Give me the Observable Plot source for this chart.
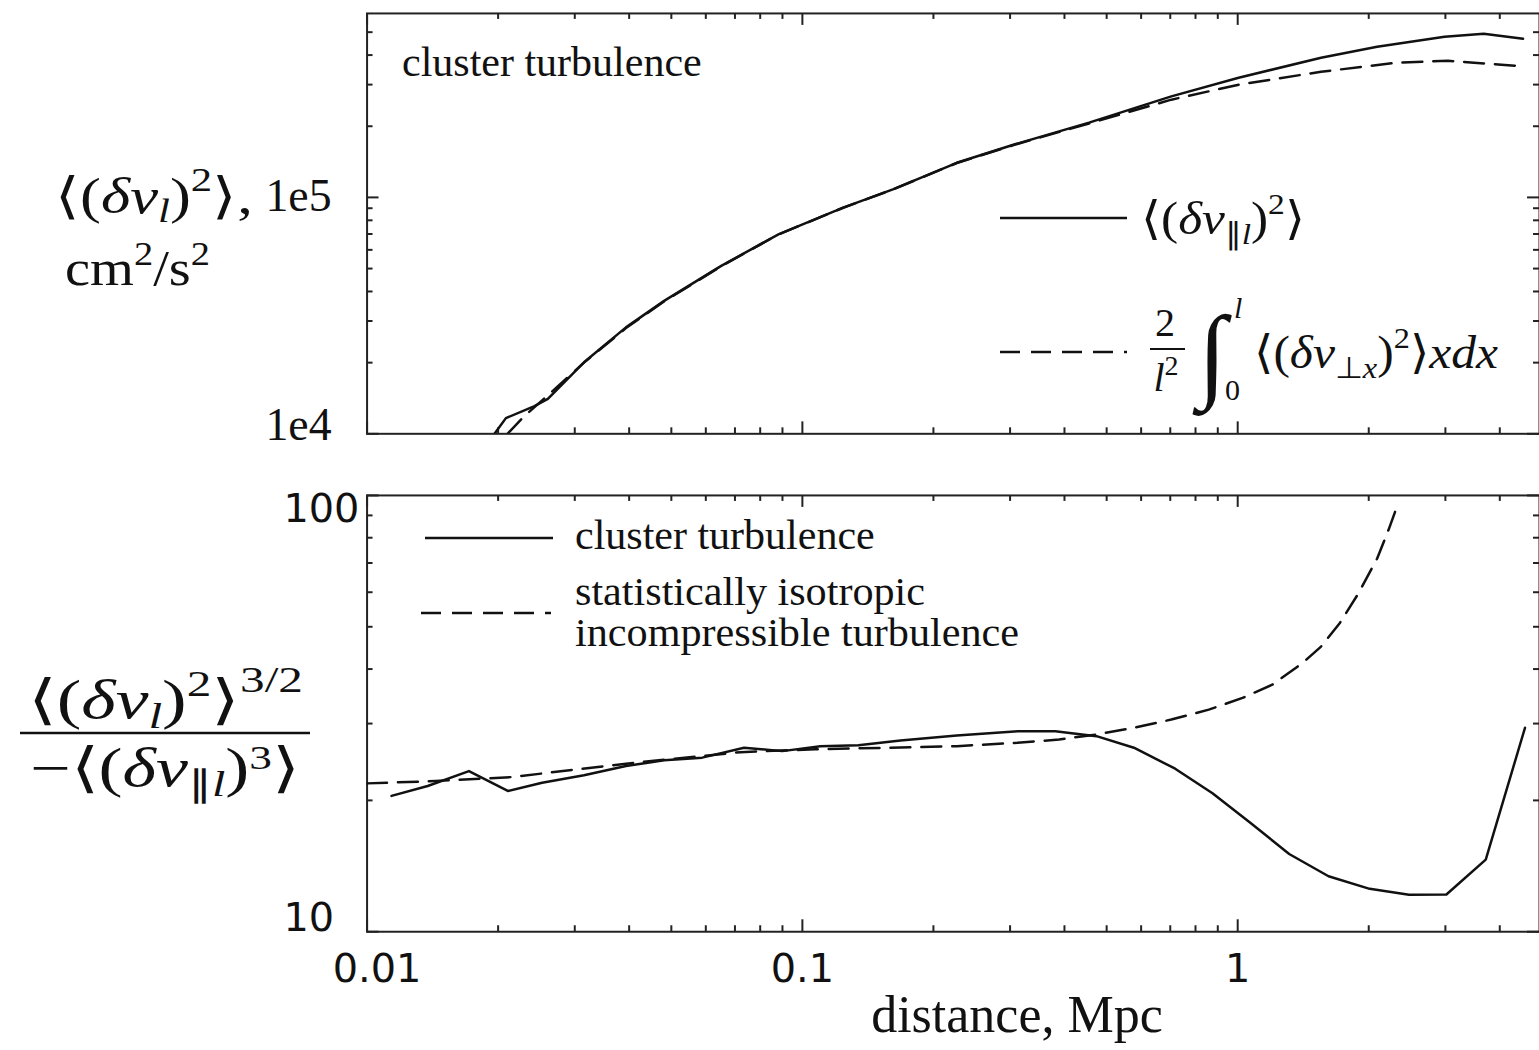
<!DOCTYPE html>
<html><head><meta charset="utf-8">
<script src="https://cdn.jsdelivr.net/npm/d3@7"></script>
<script src="https://cdn.jsdelivr.net/npm/@observablehq/plot@0.6"></script>
<style>
html,body{margin:0;padding:0;background:#fff;overflow:hidden;}
#wrap{position:relative;width:1539px;height:1050px;overflow:hidden;background:#fff;}
#top,#bot{position:absolute;left:0;}
#top{top:0px}
#bot{top:480px}
#overlay{position:absolute;left:0;top:0;}
#overlay text{font-family:"Liberation Serif",serif;fill:#111;}
</style></head><body>
<div id="wrap">
<div id="top"></div>
<div id="bot"></div>
<svg id="overlay" width="1539" height="1050" xmlns="http://www.w3.org/2000/svg">
  <!-- top y-axis label -->
  <text x="55" y="213" font-size="50" textLength="198" lengthAdjust="spacingAndGlyphs">⟨(<tspan font-style="italic">δv</tspan><tspan font-style="italic" font-size="34" dy="9">l</tspan><tspan dy="-9">)</tspan><tspan font-size="34" dy="-22">2</tspan><tspan dy="22">⟩,</tspan></text>
  <text x="65" y="285" font-size="50" textLength="145" lengthAdjust="spacingAndGlyphs">cm<tspan font-size="34" dy="-20">2</tspan><tspan dy="20">/s</tspan><tspan font-size="34" dy="-20">2</tspan></text>
  <!-- bottom y-axis label (fraction) -->
  <text x="28" y="718" font-size="54" textLength="275" lengthAdjust="spacingAndGlyphs">⟨(<tspan font-style="italic">δv</tspan><tspan font-style="italic" font-size="36" dy="10">l</tspan><tspan dy="-10">)</tspan><tspan font-size="36" dy="-22">2</tspan><tspan dy="22">⟩</tspan><tspan font-size="36" dy="-26">3/2</tspan></text>
  <line x1="20" x2="310" y1="733" y2="733" stroke="#111" stroke-width="2.5"/>
  <text x="30" y="786" font-size="54" textLength="270" lengthAdjust="spacingAndGlyphs">−⟨(<tspan font-style="italic">δv</tspan><tspan font-size="36" dy="10">∥<tspan font-style="italic">l</tspan></tspan><tspan dy="-10">)</tspan><tspan font-size="34" dy="-17">3</tspan><tspan dy="17">⟩</tspan></text>
  <!-- top panel annotation -->
  <text x="402" y="76" font-size="42">cluster turbulence</text>
  <!-- top legend -->
  <line x1="1000" x2="1127" y1="218" y2="218" stroke="#111" stroke-width="2.5"/>
  <text x="1141" y="234" font-size="46" textLength="164" lengthAdjust="spacingAndGlyphs">⟨(<tspan font-style="italic">δv</tspan><tspan font-size="30" dy="10">∥<tspan font-style="italic">l</tspan></tspan><tspan dy="-10">)</tspan><tspan font-size="30" dy="-20">2</tspan><tspan dy="20">⟩</tspan></text>
  <line x1="1000" x2="1127" y1="352" y2="352" stroke="#111" stroke-width="2.5" stroke-dasharray="20,11"/>
  <text x="1165" y="336" font-size="40" text-anchor="middle">2</text>
  <line x1="1150" x2="1185" y1="349" y2="349" stroke="#111" stroke-width="2"/>
  <text x="1166" y="391" font-size="40" text-anchor="middle"><tspan font-style="italic">l</tspan><tspan font-size="28" dy="-16">2</tspan></text>
  <text x="1198" y="388" font-size="104" font-style="italic">∫</text>
  <text x="1234" y="318" font-size="30" font-style="italic">l</text>
  <text x="1225" y="400" font-size="30">0</text>
  <text x="1254" y="368" font-size="46" textLength="244" lengthAdjust="spacingAndGlyphs">⟨(<tspan font-style="italic">δv</tspan><tspan font-size="30" dy="10">⊥<tspan font-style="italic">x</tspan></tspan><tspan dy="-10">)</tspan><tspan font-size="30" dy="-20">2</tspan><tspan dy="20">⟩</tspan><tspan font-style="italic">xdx</tspan></text>
  <!-- bottom legend -->
  <line x1="425" x2="553" y1="538" y2="538" stroke="#111" stroke-width="2.5"/>
  <text x="575" y="549" font-size="42">cluster turbulence</text>
  <line x1="421" x2="551" y1="613" y2="613" stroke="#111" stroke-width="2.5" stroke-dasharray="20,11"/>
  <text x="575" y="605" font-size="40" textLength="350" lengthAdjust="spacingAndGlyphs">statistically isotropic</text>
  <text x="575" y="646" font-size="40" textLength="444" lengthAdjust="spacingAndGlyphs">incompressible turbulence</text>
  <!-- x-axis title -->
  <text x="1017" y="1032" font-size="52" text-anchor="middle">distance, Mpc</text>
</svg>
</div>
<script>
// ---------- data ----------
// top panel: <(dv_l)^2> (solid) and 2/l^2 ∫ <(dv_perp x)^2> x dx (dashed), cm^2/s^2
const topSolidX = [0.01962,0.02084,0.02424,0.02602,0.0315,0.03933,0.04813,0.0651,0.0881,0.1241,0.1614,0.2263,0.3066,0.4555,0.704,1.005,1.554,2.091,2.987,3.674,4.524];
const topSolidY = [1.0e4,1.165e4,1.309e4,1.405e4,2.007e4,2.82e4,3.65e4,5.13e4,6.98e4,9.05e4,1.081e5,1.401e5,1.674e5,2.072e5,2.675e5,3.208e5,3.896e5,4.337e5,4.778e5,4.92e5,4.69e5];
const topDashX = [0.02102,0.02288,0.02623,0.0315,0.03933,0.04813,0.0651,0.0881,0.1241,0.1614,0.2263,0.3066,0.4555,0.704,1.005,1.554,2.309,3.04,4.35];
const topDashY = [1.0e4,1.18e4,1.475e4,2.0e4,2.8e4,3.63e4,5.12e4,6.97e4,9.04e4,1.08e5,1.398e5,1.668e5,2.055e5,2.591e5,2.998e5,3.40e5,3.71e5,3.785e5,3.606e5];
// bottom panel: ratio, cluster turbulence (solid) and isotropic incompressible (dashed)
const botSolidX = [0.01138,0.01378,0.01714,0.02105,0.02524,0.0315,0.03933,0.04813,0.05886,0.07346,0.08991,0.110,0.1345,0.168,0.2263,0.3128,0.3811,0.4739,0.5775,0.7184,0.8752,1.067,1.313,1.617,2.010,2.475,3.016,3.714,4.571];
const botSolidY = [20.48,21.58,23.35,21.02,21.96,22.83,23.98,24.71,25.06,26.41,25.94,26.63,26.77,27.44,28.17,28.81,28.81,28.07,26.41,23.64,20.77,17.80,15.07,13.40,12.54,12.15,12.17,14.63,29.34];
const botDashX = [0.01,0.01435,0.02147,0.03936,0.07201,0.107,0.155,0.2263,0.3121,0.3888,0.4739,0.5775,0.704,0.8582,1.026,1.201,1.408,1.554,1.715,1.894,2.091,2.219,2.332];
const botDashY = [21.88,22.15,22.62,24.28,25.80,26.2,26.4,26.63,27.11,27.58,28.32,29.34,30.64,32.29,34.35,36.84,41.28,45.04,50.94,59.65,71.70,83.18,95.39];
// ticks
const xMajor = [0.01, 0.1, 1];
const xLabels = ["0.01", "0.1", "1"];
const xMinor = [0.02,0.03,0.04,0.05,0.06,0.07,0.08,0.09,0.2,0.3,0.4,0.5,0.6,0.7,0.8,0.9,2,3,4];
const topYMajor = [1e4, 1e5];
const topYMinor = [2e4,3e4,4e4,5e4,6e4,7e4,8e4,9e4,2e5,3e5,4e5,5e5];
const botYMajor = [10, 100];
const botYMinor = [20,30,40,50,60,70,80,90];

// ---------- layout ----------
const W = 1545, ML = 368, FW = W - ML;
const xDomain = [0.01, 4.935];
const INK = "#111", FRAME = "#222";
const pts = (xs, ys) => xs.map((x, i) => ({x, y: ys[i]}));

function tickMarks(FH, yMajor, yMinor) {
  const s = {stroke: FRAME, strokeWidth: 2};
  return [
    Plot.ruleX(xMajor, {x: d => d, insetTop: FH - 12, ...s}),
    Plot.ruleX(xMajor, {x: d => d, insetBottom: FH - 12, ...s}),
    Plot.ruleX(xMinor, {x: d => d, insetTop: FH - 6, ...s}),
    Plot.ruleX(xMinor, {x: d => d, insetBottom: FH - 6, ...s}),
    Plot.ruleY(yMajor, {y: d => d, insetRight: FW - 12, ...s}),
    Plot.ruleY(yMajor, {y: d => d, insetLeft: FW - 12, ...s}),
    Plot.ruleY(yMinor, {y: d => d, insetRight: FW - 6, ...s}),
    Plot.ruleY(yMinor, {y: d => d, insetLeft: FW - 6, ...s}),
    Plot.frame({stroke: FRAME, strokeWidth: 2})
  ];
}

// top panel
{
  const H = 450, MT = 13, MB = 15, FH = H - MT - MB;
  const chart = Plot.plot({
    width: W, height: H, marginLeft: ML, marginRight: 0, marginTop: MT, marginBottom: MB,
    style: {background: "transparent", overflow: "visible"},
    x: {type: "log", domain: xDomain, axis: null},
    y: {type: "log", domain: [1e4, 6e5], axis: null},
    marks: [
      ...tickMarks(FH, topYMajor, topYMinor),
      Plot.line(pts(topDashX, topDashY), {x: "x", y: "y", stroke: INK, strokeWidth: 2.5, strokeDasharray: "20,11", clip: true}),
      Plot.line(pts(topSolidX, topSolidY), {x: "x", y: "y", stroke: INK, strokeWidth: 2.5, clip: true}),
      Plot.text([1e5], {y: d => d, text: ["1e5"], frameAnchor: "left", textAnchor: "start", dx: -102, dy: -1, fontSize: 46, fontFamily: "Liberation Serif", fill: INK}),
      Plot.text([1e4], {y: d => d, text: ["1e4"], frameAnchor: "left", textAnchor: "start", dx: -102, dy: -9, fontSize: 46, fontFamily: "Liberation Serif", fill: INK})
    ]
  });
  document.getElementById("top").appendChild(chart);
}

// bottom panel
{
  const H = 570, MT = 15, MB = 117, FH = H - MT - MB;
  const chart = Plot.plot({
    width: W, height: H, marginLeft: ML, marginRight: 0, marginTop: MT, marginBottom: MB,
    style: {background: "transparent", overflow: "visible"},
    x: {type: "log", domain: xDomain, axis: null},
    y: {type: "log", domain: [10, 100], axis: null},
    marks: [
      ...tickMarks(FH, botYMajor, botYMinor),
      Plot.line(pts(botDashX, botDashY), {x: "x", y: "y", stroke: INK, strokeWidth: 2.5, strokeDasharray: "20,11", clip: true}),
      Plot.line(pts(botSolidX, botSolidY), {x: "x", y: "y", stroke: INK, strokeWidth: 2.5, clip: true}),
      Plot.text([100], {y: d => d, text: ["100"], frameAnchor: "left", textAnchor: "start", dx: -84, dy: 14, fontSize: 40, fontFamily: "DejaVu Sans", fill: INK}),
      Plot.text([10], {y: d => d, text: ["10"], frameAnchor: "left", textAnchor: "start", dx: -84, dy: -14, fontSize: 40, fontFamily: "DejaVu Sans", fill: INK}),
      Plot.text([xMajor[0]], {x: d => d, text: [xLabels[0]], frameAnchor: "bottom", dx: 10, dy: 50, fontSize: 40, fontFamily: "DejaVu Sans", fill: INK}),
      Plot.text(xMajor.slice(1), {x: d => d, text: xLabels.slice(1), frameAnchor: "bottom", dy: 50, fontSize: 40, fontFamily: "DejaVu Sans", fill: INK})
    ]
  });
  document.getElementById("bot").appendChild(chart);
}
</script>
</body></html>
